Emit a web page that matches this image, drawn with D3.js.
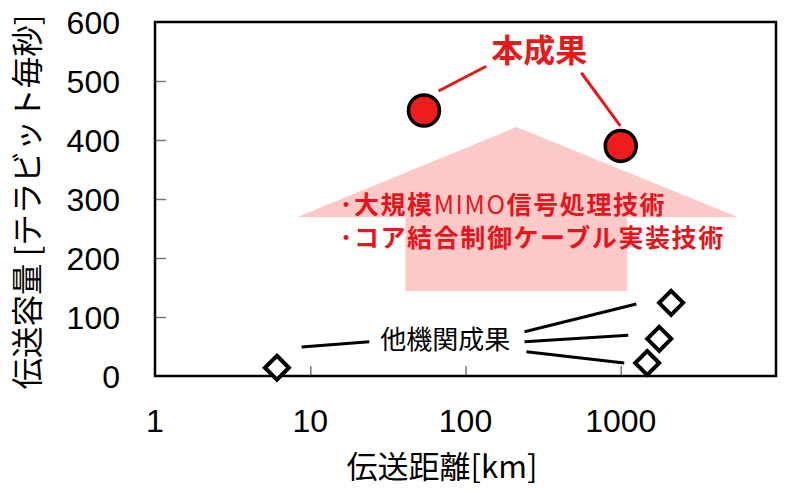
<!DOCTYPE html>
<html>
<head>
<meta charset="utf-8">
<script src="https://cdn.jsdelivr.net/npm/d3@7"></script>
<style>
  body { margin: 0; background: #fff; }
  text { font-family: "Liberation Sans", Arial, sans-serif; }
  .jp { font-family: "Noto Sans CJK JP", sans-serif; }
</style>
</head>
<body>
<div id="chart"></div>
<script>
// data
var ourDist = [54, 1000];
var ourCap = [450, 390];
var otherDist = [6.1, 1480, 1770, 2110];
var otherCap = [14, 22, 63, 124];
var xTicks = [1, 10, 100, 1000];
var yTicks = [0, 100, 200, 300, 400, 500, 600];

// annotation geometry in data units
var arrowPts = [[213, 422], [5700, 269], [1100, 269], [1100, 144], [41, 144], [41, 269], [8.2, 269]];
var redLeaders = [[[67, 483], [136, 525]], [[557, 514], [993, 424]]];
var blackLeaders = [
    [[8.8, 49], [24, 58]],
    [[240, 75], [1260, 122]],
    [[240, 58], [1117, 69]],
    [[247, 41], [1053, 22]]
];

var margin = { top: 22, right: 24, bottom: 114, left: 155 },
    width = 800 - margin.left - margin.right,
    height = 490 - margin.top - margin.bottom;

var x = d3.scaleLog().domain([1, 10000]).range([0, width]);
var y = d3.scaleLinear().domain([0, 600]).range([height, 0]);

var svg = d3.select("#chart").append("svg")
    .attr("width", 800)
    .attr("height", 490)
  .append("g")
    .attr("transform", "translate(" + margin.left + "," + margin.top + ")");

// pink arrow
svg.append("path")
    .attr("d", d3.line().x(function(d) { return x(d[0]); }).y(function(d) { return y(d[1]); })(arrowPts) + "Z")
    .attr("fill", "#fcc9c9");

// axes ticks (inside)
svg.append("g")
    .attr("transform", "translate(0," + height + ")")
    .call(d3.axisTop(x).tickValues(xTicks.slice(1)).tickSize(10).tickFormat(""))
    .call(function(g) { g.select(".domain").remove(); })
    .selectAll("line").attr("stroke", "#777").attr("stroke-width", 1.5);

svg.append("g")
    .call(d3.axisRight(y).tickValues(yTicks.slice(1, -1)).tickSize(11).tickFormat(""))
    .call(function(g) { g.select(".domain").remove(); })
    .selectAll("line").attr("stroke", "#777").attr("stroke-width", 1.5);

// tick labels
svg.selectAll(".xlab")
    .data(xTicks)
    .enter().append("text")
    .attr("x", function(d) { return x(d); })
    .attr("y", height + 56)
    .attr("text-anchor", "middle")
    .style("font-size", "32px")
    .text(function(d) { return d; });

svg.selectAll(".ylab")
    .data(yTicks)
    .enter().append("text")
    .attr("x", -35)
    .attr("y", function(d) { return y(d); })
    .attr("dy", "0.36em")
    .attr("text-anchor", "end")
    .style("font-size", "32px")
    .text(function(d) { return d; });

// frame
svg.append("rect")
    .attr("width", width)
    .attr("height", height)
    .attr("fill", "none")
    .attr("stroke", "#000")
    .attr("stroke-width", 2.5);

// leaders
var seg = d3.line().x(function(d) { return x(d[0]); }).y(function(d) { return y(d[1]); });
svg.selectAll(".rl")
    .data(redLeaders)
    .enter().append("path")
    .attr("d", seg)
    .attr("stroke", "#e51a1a")
    .attr("stroke-width", 3);

svg.selectAll(".bl")
    .data(blackLeaders)
    .enter().append("path")
    .attr("d", seg)
    .attr("stroke", "#000")
    .attr("stroke-width", 3);

// other results: diamonds
svg.selectAll(".dia")
    .data(otherDist)
    .enter().append("path")
    .attr("transform", function(d, i) { return "translate(" + x(d) + "," + y(otherCap[i]) + ")"; })
    .attr("d", "M0,-12L12,0L0,12L-12,0Z")
    .attr("fill", "#fff")
    .attr("stroke", "#000")
    .attr("stroke-width", 4);

// this work: red circles
svg.selectAll(".dot")
    .data(ourDist)
    .enter().append("circle")
    .attr("cx", function(d) { return x(d); })
    .attr("cy", function(d, i) { return y(ourCap[i]); })
    .attr("r", 15.5)
    .attr("fill", "#ee1c1c")
    .attr("stroke", "#000")
    .attr("stroke-width", 3.5);

// labels
svg.append("text")
    .attr("class", "jp")
    .attr("x", x(299))
    .attr("y", y(551))
    .attr("dy", "0.36em")
    .attr("text-anchor", "middle")
    .style("font-size", "32px")
    .style("font-weight", "bold")
    .style("fill", "#e51a1a")
    .text("本成果");

svg.append("text")
    .attr("class", "jp")
    .attr("x", x(74))
    .attr("y", y(61))
    .attr("dy", "0.36em")
    .attr("text-anchor", "middle")
    .style("font-size", "26px")
    .style("fill", "#000")
    .text("他機関成果");

var t1 = svg.append("text")
    .attr("class", "jp")
    .attr("x", x(15.5))
    .attr("y", y(290))
    .attr("dy", "0.36em")
    .style("font-size", "25px")
    .style("font-weight", "bold")
    .style("letter-spacing", "1.6px")
    .style("fill", "#e8141b");
t1.append("tspan").text("･大規模");
t1.append("tspan").style("font-weight", "normal").text("MIMO");
t1.append("tspan").text("信号処理技術");

svg.append("text")
    .attr("class", "jp")
    .attr("x", x(15.5))
    .attr("y", y(234))
    .attr("dy", "0.36em")
    .style("font-size", "25px")
    .style("font-weight", "bold")
    .style("letter-spacing", "1.6px")
    .style("fill", "#e8141b")
    .text("･コア結合制御ケーブル実装技術");

// axis titles
svg.append("text")
    .attr("class", "jp")
    .attr("x", 287)
    .attr("y", height + 91)
    .attr("dy", "0.36em")
    .attr("text-anchor", "middle")
    .style("font-size", "31px")
    .text("伝送距離[km]");

svg.append("text")
    .attr("class", "jp")
    .attr("transform", "translate(" + (-127) + "," + (height / 2 + 3) + ") rotate(-90)")
    .attr("dy", "0.36em")
    .attr("text-anchor", "middle")
    .style("font-size", "31.5px")
    .text("伝送容量 [テラビット毎秒]");
</script>
</body>
</html>
